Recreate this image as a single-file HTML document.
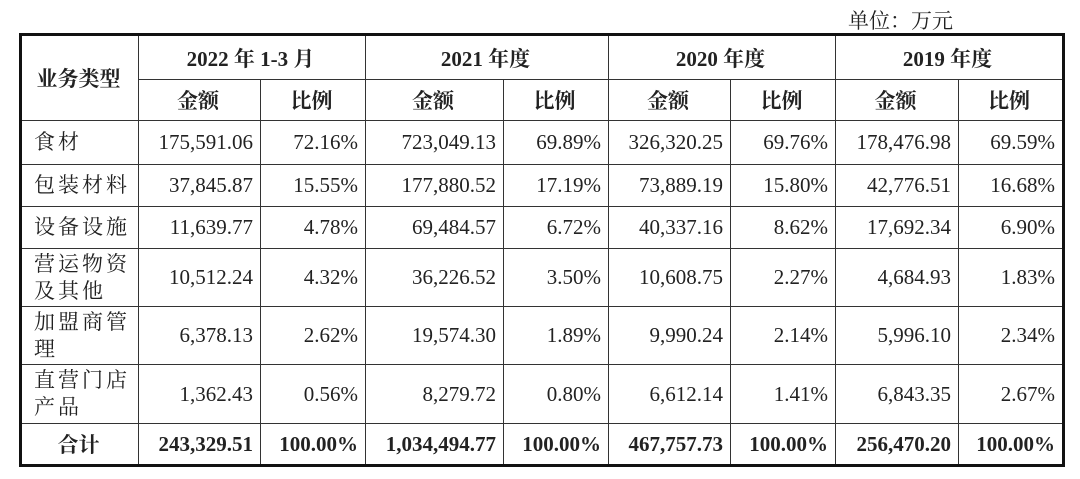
<!DOCTYPE html>
<html><head><meta charset="utf-8"><style>
body{margin:0;width:1080px;height:479px;background:#fff;position:relative;overflow:hidden;font-family:"Liberation Serif","Noto Serif CJK SC",serif;color:#222}
table{position:absolute;left:19px;top:33px;border-collapse:collapse;border:3px solid #111;font-size:21px}
td{border:1.5px solid #333;padding:0 7px 0 4px;text-align:right;white-space:nowrap}
.h td{text-align:center;font-weight:bold}
.l{text-align:left;line-height:27px;padding-left:12px;letter-spacing:3px}
.b td{font-weight:bold}
.u{position:absolute;left:848px;top:5px;font-size:21px}
</style></head><body>
<div class="u">单位：万元</div>
<table>
<colgroup><col style="width:118px"><col style="width:122px"><col style="width:105px"><col style="width:138px"><col style="width:105px"><col style="width:122px"><col style="width:105px"><col style="width:123px"><col style="width:105px"></colgroup>
<tr class="h" style="height:45px"><td rowspan="2">业务类型</td><td colspan="2">2022 年 1-3 月</td><td colspan="2">2021 年度</td><td colspan="2">2020 年度</td><td colspan="2">2019 年度</td></tr>
<tr class="h" style="height:41px"><td>金额</td><td>比例</td><td>金额</td><td>比例</td><td>金额</td><td>比例</td><td>金额</td><td>比例</td></tr>
<tr style="height:44px"><td class="l">食材</td><td>175,591.06</td><td>72.16%</td><td>723,049.13</td><td>69.89%</td><td>326,320.25</td><td>69.76%</td><td>178,476.98</td><td>69.59%</td></tr>
<tr style="height:42px"><td class="l">包装材料</td><td>37,845.87</td><td>15.55%</td><td>177,880.52</td><td>17.19%</td><td>73,889.19</td><td>15.80%</td><td>42,776.51</td><td>16.68%</td></tr>
<tr style="height:42px"><td class="l">设备设施</td><td>11,639.77</td><td>4.78%</td><td>69,484.57</td><td>6.72%</td><td>40,337.16</td><td>8.62%</td><td>17,692.34</td><td>6.90%</td></tr>
<tr style="height:58px"><td class="l">营运物资<br>及其他</td><td>10,512.24</td><td>4.32%</td><td>36,226.52</td><td>3.50%</td><td>10,608.75</td><td>2.27%</td><td>4,684.93</td><td>1.83%</td></tr>
<tr style="height:58px"><td class="l">加盟商管<br>理</td><td>6,378.13</td><td>2.62%</td><td>19,574.30</td><td>1.89%</td><td>9,990.24</td><td>2.14%</td><td>5,996.10</td><td>2.34%</td></tr>
<tr style="height:59px"><td class="l">直营门店<br>产品</td><td>1,362.43</td><td>0.56%</td><td>8,279.72</td><td>0.80%</td><td>6,612.14</td><td>1.41%</td><td>6,843.35</td><td>2.67%</td></tr>
<tr class="b" style="height:42px"><td style="text-align:center">合计</td><td>243,329.51</td><td>100.00%</td><td>1,034,494.77</td><td>100.00%</td><td>467,757.73</td><td>100.00%</td><td>256,470.20</td><td>100.00%</td></tr>
</table>
</body></html>
